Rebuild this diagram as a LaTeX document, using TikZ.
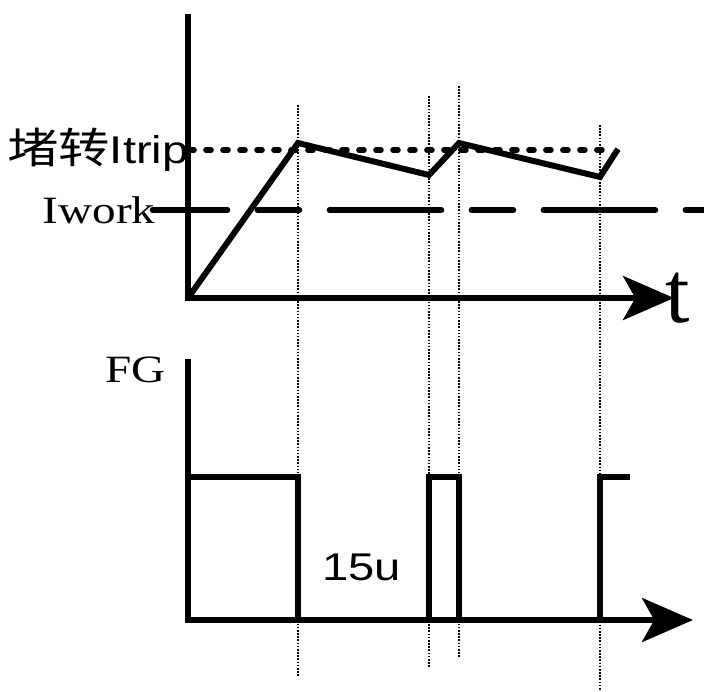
\documentclass[tikz,border=0pt]{standalone}
\usepackage{fontspec}
\setmainfont{Liberation Serif}
\setsansfont{Liberation Sans}
\newfontfamily\cjk{Noto Sans CJK SC}
\usetikzlibrary{arrows.meta}
\usetikzlibrary{positioning}

\begin{document}
\begin{tikzpicture}[x=0.02cm, y=-0.02cm, >={Stealth[length=29pt,width=25pt,inset=7pt]},
		axis/.style={line width=3.4pt, line join=miter},
		wave/.style={line width=3.4pt, line join=miter},
		guide/.style={line width=0.8pt, dash pattern=on 0.9pt off 0.9pt},
		lbl/.style={inner sep=0pt, xscale=1.22, font=\fontsize{22}{22}\selectfont}]
		\useasboundingbox (0,0) rectangle (704,691);
		% current
		\coordinate (Y1) at (188,14);
		\coordinate (O1) at (188,298);
		\coordinate (X1) at (674,298);
		\draw[axis,->] (Y1) -- (O1) -- (X1);
		\node[lbl, xscale=0.82, anchor=base west, font=\fontsize{50}{50}\selectfont] (t) at (665,322) {t};
		\node[lbl, anchor=base east] (Itrip) at (189,163) {{\cjk\fontsize{24}{24}\selectfont 堵转}\sffamily Itrip};
		\node[lbl, anchor=base east] (Iwork) at (156,223) {Iwork};
		\draw[line width=3.2pt, line cap=round, dash pattern=on 0.1cm off 0.24cm] (Itrip.east |- 0,150) -- (610,150);
		\draw[line width=3.2pt, line cap=round, dash pattern=on 2.24cm off 0.6cm on 0.84cm off 0.6cm, dash phase=0.74cm] (152.5,210) -- (706,210);
		\draw[wave] (O1) -- (298,143) -- (429,175) -- (459,143) -- (600,177) -- (618,149);
		% FG
		\coordinate (Y2) at (188,359);
		\coordinate (O2) at (188,620);
		\coordinate (X2) at (693,620);
		\draw[axis,->] (Y2) -- (O2) -- (X2);
		\node[lbl, anchor=base west] (FG) at (105,382) {FG};
		\node[lbl, anchor=base west] (W) at (322,580) {\sffamily 15u};
		\draw[wave] (188,477) -- (298,477) -- (298,620);
		\draw[wave] (429,620) -- (429,477) -- (459,477) -- (459,620);
		\draw[wave] (600,620) -- (600,477) -- (630,477);
		% markers
		\foreach \x/\t/\b in {298/105/676, 429/96/667, 459/86/657, 600/125/691}
			\draw[guide] (\x,\t) -- (\x,\b);
	\end{tikzpicture}
\end{document}
